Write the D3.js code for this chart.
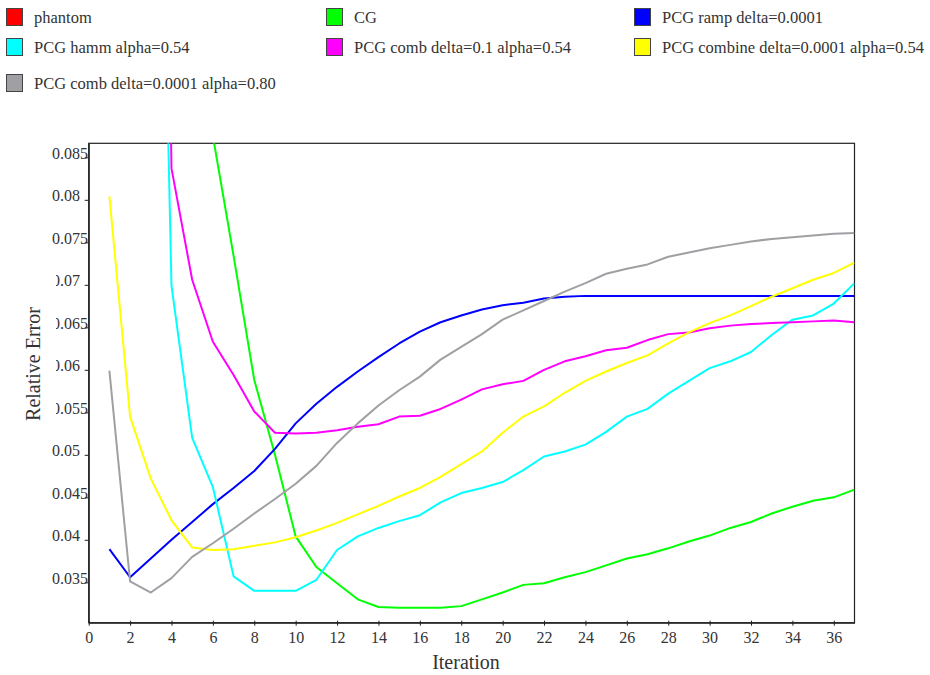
<!DOCTYPE html>
<html>
<head>
<meta charset="utf-8">
<script src="https://cdn.jsdelivr.net/npm/d3@7/dist/d3.min.js"></script>
<style>
  html, body { margin: 0; padding: 0; background: #fff; }
  svg { display: block; }
  text { font-family: "Liberation Serif", "DejaVu Serif", serif; fill: #333; }
</style>
</head>
<body>
<svg id="chart" width="930" height="675"></svg>
<script>
// Iteration numbers shared by every series
const iterations = d3.range(1, 38);

// Relative error per iteration (values above the plotted range are clipped)
const cg = [0.30, 0.25, 0.20, 0.15, 0.11, 0.0875, 0.0734, 0.0588, 0.0500, 0.0404,
  0.0368, 0.0349, 0.0330, 0.0321, 0.0320, 0.0320, 0.0320, 0.0322, 0.0330, 0.0338,
  0.0347, 0.0349, 0.0356, 0.0362, 0.0370, 0.0378, 0.0383, 0.0390, 0.0398, 0.0405,
  0.0414, 0.0421, 0.0431, 0.0439, 0.0446, 0.0450, 0.0459];
const pcgRamp = [0.0389, 0.0356, 0.0378, 0.0400, 0.0421, 0.0442, 0.0461, 0.0481, 0.0507, 0.0537,
  0.0560, 0.0580, 0.0598, 0.0615, 0.0631, 0.0645, 0.0656, 0.0664, 0.0671, 0.0676,
  0.0679, 0.0684, 0.0686, 0.0687, 0.0687, 0.0687, 0.0687, 0.0687, 0.0687, 0.0687,
  0.0687, 0.0687, 0.0687, 0.0687, 0.0687, 0.0687, 0.0687];
const pcgHamm = [0.30, 0.24, 0.18, 0.0699, 0.0520, 0.0462, 0.0357, 0.0340, 0.0340, 0.0340,
  0.0353, 0.0388, 0.0404, 0.0414, 0.0422, 0.0429, 0.0444, 0.0455, 0.0461, 0.0468,
  0.0482, 0.0498, 0.0504, 0.0512, 0.0527, 0.0545, 0.0554, 0.0572, 0.0587, 0.0602,
  0.0610, 0.0621, 0.0641, 0.0659, 0.0664, 0.0678, 0.0702];
const pcgComb01 = [0.40, 0.32, 0.25, 0.0837, 0.0706, 0.0633, 0.0594, 0.0551, 0.0526, 0.0525,
  0.0526, 0.0529, 0.0533, 0.0536, 0.0545, 0.0546, 0.0554, 0.0565, 0.0577, 0.0583,
  0.0587, 0.0600, 0.0610, 0.0616, 0.0623, 0.0626, 0.0635, 0.0642, 0.0644, 0.0649,
  0.0652, 0.0654, 0.0655, 0.0656, 0.0657, 0.0658, 0.0656];
const pcgCombine = [0.0804, 0.0545, 0.0472, 0.0423, 0.0391, 0.0388, 0.0389, 0.0393, 0.0397, 0.0403,
  0.0411, 0.0420, 0.0430, 0.0440, 0.0451, 0.0461, 0.0474, 0.0489, 0.0504, 0.0526,
  0.0545, 0.0557, 0.0573, 0.0587, 0.0598, 0.0608, 0.0617, 0.0631, 0.0644, 0.0655,
  0.0664, 0.0675, 0.0686, 0.0696, 0.0706, 0.0714, 0.0726];
const pcgComb080 = [0.0599, 0.0351, 0.0338, 0.0355, 0.0380, 0.0396, 0.0413, 0.0431, 0.0448, 0.0466,
  0.0487, 0.0514, 0.0537, 0.0558, 0.0576, 0.0592, 0.0612, 0.0627, 0.0642, 0.0659,
  0.0670, 0.0681, 0.0692, 0.0702, 0.0713, 0.0719, 0.0724, 0.0733, 0.0738, 0.0743,
  0.0747, 0.0751, 0.0754, 0.0756, 0.0758, 0.0760, 0.0761];

// Legend entries, in legend order; "phantom" has no curve
const seriesNames = ["phantom", "CG", "PCG ramp delta=0.0001", "PCG hamm alpha=0.54",
  "PCG comb delta=0.1 alpha=0.54", "PCG combine delta=0.0001 alpha=0.54",
  "PCG comb delta=0.0001 alpha=0.80"];
const seriesColors = ["#ff0000", "#00ff00", "#0000ff", "#00ffff", "#ff00ff", "#ffff00", "#a0a0a4"];
const seriesValues = [null, cg, pcgRamp, pcgHamm, pcgComb01, pcgCombine, pcgComb080];

// Axis ticks
const xTicks = d3.range(0, 37, 2);
const yTicks = [0.035, 0.04, 0.045, 0.05, 0.055, 0.06, 0.065, 0.07, 0.075, 0.08, 0.085];

const svg = d3.select("#chart");
const plot = { left: 88.7, right: 854.5, top: 143.3, bottom: 622.7 };

const x = d3.scaleLinear().domain([0, 37]).range([plot.left, plot.right]);
const y = d3.scaleLinear().domain([0.03025, 0.08665]).range([plot.bottom, plot.top]);

// Legend: three columns
const legendCols = [6, 326, 634];
const legendRows = [17, 47, 83];
const legend = svg.append("g");
seriesNames.forEach((name, i) => {
  const cx = legendCols[i % 3], cy = legendRows[Math.floor(i / 3)];
  legend.append("rect")
    .attr("x", cx + 0.5).attr("y", cy - 8.5)
    .attr("width", 16).attr("height", 17)
    .attr("fill", seriesColors[i]).attr("stroke", "#444").attr("stroke-width", 1);
  legend.append("text")
    .attr("x", cx + 28).attr("y", cy + 5.5)
    .attr("font-size", 16.5)
    .text(name);
});

// Plot frame
svg.append("rect")
  .attr("x", plot.left).attr("y", plot.top)
  .attr("width", plot.right - plot.left).attr("height", plot.bottom - plot.top)
  .attr("fill", "none").attr("stroke", "#222").attr("stroke-width", 1.2);

// Curves
svg.append("defs").append("clipPath").attr("id", "plot-clip")
  .append("rect")
  .attr("x", plot.left).attr("y", plot.top)
  .attr("width", plot.right - plot.left).attr("height", plot.bottom - plot.top);

const line = d3.line()
  .x((d, i) => x(iterations[i]))
  .y(d => y(d));

const curves = svg.append("g").attr("clip-path", "url(#plot-clip)");
seriesValues.forEach((vals, i) => {
  if (!vals) return;
  curves.append("path")
    .attr("d", line(vals))
    .attr("fill", "none")
    .attr("stroke", seriesColors[i])
    .attr("stroke-width", 2)
    .attr("stroke-linejoin", "round");
});

// X axis
const xAxis = svg.append("g").attr("transform", `translate(0,${plot.bottom})`)
  .call(d3.axisBottom(x).tickValues(xTicks).tickSizeInner(3).tickSizeOuter(0).tickPadding(6));
xAxis.select(".domain").attr("stroke", "#222").attr("stroke-width", 1.2);
xAxis.selectAll(".tick line").attr("stroke", "#222").attr("y1", -2);
xAxis.selectAll(".tick text")
  .attr("font-family", "Liberation Serif").attr("font-size", 16).attr("fill", "#333");

// Y axis: labels sit left-aligned beside short ticks
const yAxis = svg.append("g").attr("transform", `translate(${plot.left},0)`)
  .call(d3.axisLeft(y).tickValues(yTicks).tickSizeInner(4).tickSizeOuter(0)
    .tickFormat(d => String(+d.toFixed(3))));
yAxis.select(".domain").attr("stroke", "#222").attr("stroke-width", 1.2);
yAxis.selectAll(".tick line").attr("stroke", "#222");
yAxis.selectAll(".tick text")
  .attr("x", 52 - plot.left).attr("dy", null).attr("y", 1)
  .attr("text-anchor", "start")
  .attr("font-family", "Liberation Serif").attr("font-size", 16).attr("fill", "#333");

// Axis titles; the y title carries a white backing box
svg.append("rect").attr("x", 0).attr("y", 273).attr("width", 56).attr("height", 160).attr("fill", "#fff");
svg.append("text")
  .attr("transform", "translate(40,364) rotate(-90)")
  .attr("text-anchor", "middle")
  .attr("font-size", 20)
  .text("Relative Error");
svg.append("text")
  .attr("x", 466).attr("y", 669)
  .attr("text-anchor", "middle")
  .attr("font-size", 20)
  .text("Iteration");
</script>
</body>
</html>
